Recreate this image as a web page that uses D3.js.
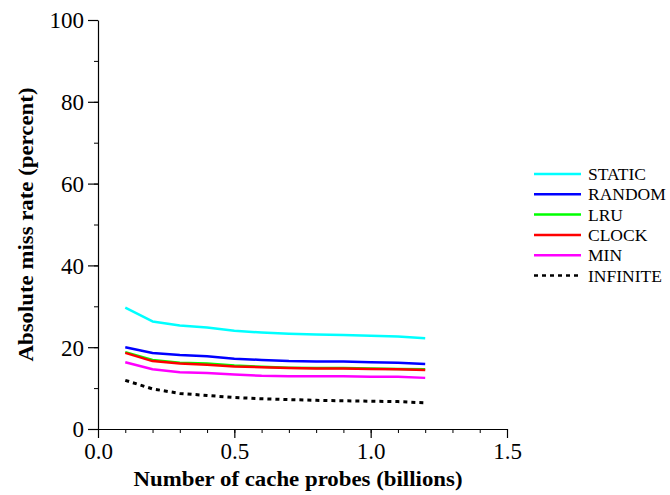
<!DOCTYPE html>
<html>
<head>
<meta charset="utf-8">
<script src="https://cdn.jsdelivr.net/npm/d3@7"></script>
<style>
  html, body { margin: 0; padding: 0; background: #fff; }
  svg { display: block; }
  text { font-family: "Liberation Serif", "Times New Roman", Times, serif; fill: #000; }
</style>
</head>
<body>
<svg id="chart" width="670" height="495"></svg>
<script>
// Probe counts (billions) at which miss rates were measured
const probes = [0.1, 0.2, 0.3, 0.4, 0.5, 0.6, 0.7, 0.8, 0.9, 1.0, 1.1, 1.2];

// Miss rate (percent) per replacement policy
const staticRate   = [29.7, 26.3, 25.3, 24.8, 24.0, 23.6, 23.3, 23.1, 23.0, 22.8, 22.6, 22.2];
const randomRate   = [20.0, 18.6, 18.1, 17.8, 17.2, 16.9, 16.6, 16.5, 16.5, 16.3, 16.2, 15.9];
const lruRate      = [18.8, 16.9, 16.2, 16.0, 15.5, 15.2, 15.0, 14.9, 14.9, 14.8, 14.7, 14.6];
const clockRate    = [18.6, 16.6, 16.0, 15.7, 15.3, 15.1, 14.9, 14.8, 14.8, 14.7, 14.6, 14.4];
const minRate      = [16.3, 14.6, 13.9, 13.7, 13.3, 13.0, 12.9, 12.9, 12.9, 12.8, 12.8, 12.5];
const infiniteRate = [11.9, 9.8, 8.7, 8.2, 7.7, 7.4, 7.2, 7.0, 6.9, 6.8, 6.7, 6.4];

const seriesNames  = ["STATIC", "RANDOM", "LRU", "CLOCK", "MIN", "INFINITE"];
const seriesValues = [staticRate, randomRate, lruRate, clockRate, minRate, infiniteRate];
const seriesColors = ["#00ffff", "#0000ff", "#00ff00", "#ff0000", "#ff00ff", "#000000"];

const xTicks = [0.0, 0.5, 1.0, 1.5];
const yTicks = [0, 20, 40, 60, 80, 100];

const serif = '"Liberation Serif", "Times New Roman", Times, serif';
const svg = d3.select("#chart");
const x = d3.scaleLinear().domain([0, 1.5]).range([98, 507]);
const y = d3.scaleLinear().domain([0, 100]).range([429, 20]);

// Minor ticks
svg.append("g").attr("transform", `translate(0,${y(0)})`)
  .call(d3.axisBottom(x).tickValues(d3.range(0, 1.51, 0.1)).tickSize(4).tickFormat(""))
  .call(g => g.select(".domain").remove());
svg.append("g").attr("transform", `translate(${x(0)},0)`)
  .call(d3.axisLeft(y).tickValues(d3.range(0, 101, 10)).tickSize(4).tickFormat(""))
  .call(g => g.select(".domain").remove());

// Major axes
const xAxis = svg.append("g").attr("transform", `translate(0,${y(0)})`)
  .call(d3.axisBottom(x).tickValues(xTicks).tickSize(9).tickPadding(4).tickFormat(d3.format(".1f")).tickSizeOuter(0));
const yAxis = svg.append("g").attr("transform", `translate(${x(0)},0)`)
  .call(d3.axisLeft(y).tickValues(yTicks).tickSize(10).tickPadding(4).tickSizeOuter(0));

[xAxis, yAxis].forEach(g => {
  g.attr("font-family", serif);
  g.selectAll("text").style("font-family", serif).style("font-size", "23px").attr("fill", "#000");
  g.selectAll("line, path").attr("stroke", "#000").attr("stroke-width", 1.2);
});
xAxis.selectAll("text").attr("dy", "0.72em");
yAxis.selectAll("text").attr("dy", "0.34em");

// Axis titles
svg.append("text")
  .attr("x", 298).attr("y", 486)
  .attr("text-anchor", "middle")
  .attr("textLength", 329).attr("lengthAdjust", "spacingAndGlyphs")
  .style("font-size", "21px").style("font-weight", "bold")
  .text("Number of cache probes (billions)");
svg.append("text")
  .attr("transform", `translate(33,${y(50)}) rotate(-90)`)
  .attr("text-anchor", "middle")
  .attr("textLength", 274).attr("lengthAdjust", "spacingAndGlyphs")
  .style("font-size", "21px").style("font-weight", "bold")
  .text("Absolute miss rate (percent)");

// Series lines
const line = d3.line().x((d, i) => x(probes[i])).y(d => y(d));
seriesValues.forEach((vals, k) => {
  const isDashed = seriesNames[k] === "INFINITE";
  svg.append("path")
    .datum(vals)
    .attr("fill", "none")
    .attr("stroke", seriesColors[k])
    .attr("stroke-width", isDashed ? 3 : 2.5)
    .attr("stroke-dasharray", isDashed ? "4,4" : null)
    .attr("stroke-linejoin", "round")
    .attr("d", line);
});

// Legend
const legend = svg.append("g").attr("transform", "translate(534,174)");
seriesNames.forEach((name, k) => {
  const row = legend.append("g").attr("transform", `translate(0,${k * 20.3})`);
  const isDashed = name === "INFINITE";
  row.append("line")
    .attr("x1", 0).attr("x2", isDashed ? 44 : 47).attr("y1", 0).attr("y2", 0)
    .attr("stroke", seriesColors[k])
    .attr("stroke-width", 2.5)
    .attr("stroke-dasharray", isDashed ? "4,4" : null);
  row.append("text")
    .attr("x", 54).attr("y", 0).attr("dy", "0.35em")
    .style("font-size", "17.5px")
    .text(name);
});
</script>
</body>
</html>
